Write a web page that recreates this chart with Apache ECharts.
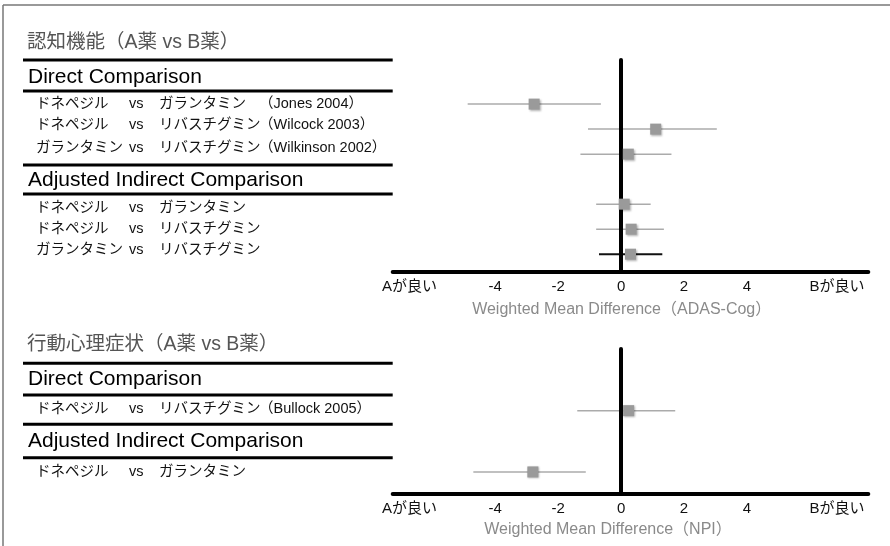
<!DOCTYPE html>
<html><head><meta charset="utf-8">
<script src="https://cdn.jsdelivr.net/npm/echarts@6/dist/echarts.min.js"></script>
<style>html,body{margin:0;padding:0;background:#fff}#c{width:890px;height:546px}</style>
</head><body><div id="c"></div>
<script>
// ---------------- data ----------------
const tickValues = [-4, -2, 0, 2, 4];
const sideLabels = ['Aが良い', 'Bが良い'];
const sideLabelValues = [-6.72, 6.86];
const xRange = [-7.25, 7.85];

const cogTitle = '認知機能（A薬 vs B薬）';
const npiTitle = '行動心理症状（A薬 vs B薬）';
const groupHeaders = ['Direct Comparison', 'Adjusted Indirect Comparison'];

const cogDirectRows = [
  ['ドネペジル', 'vs', 'ガランタミン', '（Jones 2004）'],
  ['ドネペジル', 'vs', 'リバスチグミン', '（Wilcock 2003）'],
  ['ガランタミン', 'vs', 'リバスチグミン', '（Wilkinson 2002）']
];
const cogIndirectRows = [
  ['ドネペジル', 'vs', 'ガランタミン', ''],
  ['ドネペジル', 'vs', 'リバスチグミン', ''],
  ['ガランタミン', 'vs', 'リバスチグミン', '']
];
const cogEst  = [-2.76, 1.10, 0.23, 0.10, 0.32, 0.30];
const cogLow  = [-4.87, -1.05, -1.29, -0.79, -0.79, -0.70];
const cogHigh = [-0.64, 3.04, 1.60, 0.94, 1.36, 1.31];
const cogAxisName = 'Weighted Mean Difference（ADAS-Cog）';

const npiDirectRows = [
  ['ドネペジル', 'vs', 'リバスチグミン', '（Bullock 2005）']
];
const npiIndirectRows = [
  ['ドネペジル', 'vs', 'ガランタミン', '']
];
const npiEst  = [0.24, -2.80];
const npiLow  = [-1.39, -4.69];
const npiHigh = [1.72, -1.12];
const npiAxisName = 'Weighted Mean Difference（NPI）';

// ---------------- layout / style ----------------
const W = 890, H = 546;
const FONT = "'Liberation Sans','Noto Sans CJK JP',sans-serif";
const GL = 392.7, GR = 21.7;
const cols = [36, 129, 159, 259];
const panels = [
  { title: cogTitle, direct: cogDirectRows, indirect: cogIndirectRows,
    est: cogEst, low: cogLow, high: cogHigh, axisName: cogAxisName,
    spacer: true, darkRow: 5,
    axisTop: 60, axisY: 271.7, ptsTop: 91.6, ptsBottomY: 266.7,
    titleY: 43, rules: [60, 91, 165, 194], headersY: [77, 180],
    directY: [104, 125, 147.5], indirectY: [208, 229, 250],
    nameGap: 29.5, nameShift: 17.6 },
  { title: npiTitle, direct: npiDirectRows, indirect: npiIndirectRows,
    est: npiEst, low: npiLow, high: npiHigh, axisName: npiAxisName,
    spacer: false, darkRow: -1,
    axisTop: 349, axisY: 493.7, ptsTop: 380, ptsBottomY: 502.6,
    titleY: 345, rules: [363.3, 395, 424.3, 457.7], headersY: [379, 441.7],
    directY: [409], indirectY: [471.7],
    nameGap: 28, nameShift: 45 }
];

const grids = [], xAxes = [], yAxes = [], series = [], graphic = [];

// frame
graphic.push({ type: 'line', shape: { x1: 3, y1: 5, x2: W, y2: 5 }, style: { stroke: '#777', lineWidth: 1.5 } });
graphic.push({ type: 'line', shape: { x1: 3, y1: 5, x2: 3, y2: H }, style: { stroke: '#777', lineWidth: 1.5 } });

function rowText(parts, y) {
  parts.forEach((t, k) => {
    if (!t) return;
    graphic.push({ type: 'text', x: cols[k], y: y,
      style: { text: t, font: '14.5px ' + FONT, fill: '#111', textVerticalAlign: 'middle' } });
  });
}

panels.forEach((p, pi) => {
  // left table
  graphic.push({ type: 'text', x: 27, y: p.titleY,
    style: { text: p.title, font: '19.5px ' + FONT, fill: '#555', textVerticalAlign: 'middle' } });
  p.rules.forEach(r => graphic.push({ type: 'line', shape: { x1: 23, y1: r, x2: GL, y2: r },
    style: { stroke: '#000', lineWidth: 3 } }));
  groupHeaders.forEach((h, k) => graphic.push({ type: 'text', x: 28, y: p.headersY[k],
    style: { text: h, font: '21px ' + FONT, fill: '#000', textVerticalAlign: 'middle' } }));
  p.direct.forEach((r, k) => rowText(r, p.directY[k]));
  p.indirect.forEach((r, k) => rowText(r, p.indirectY[k]));

  // axis grid
  const ag = grids.length;
  grids.push({ left: GL, right: GR, top: p.axisTop, bottom: H - p.axisY });
  xAxes.push({
    gridIndex: ag, type: 'value', min: xRange[0], max: xRange[1],
    axisLine: { show: true, lineStyle: { color: '#000', width: 4 } },
    axisTick: { show: false }, splitLine: { show: false },
    axisLabel: {
      customValues: [sideLabelValues[0], ...tickValues, sideLabelValues[1]],
      margin: 8, color: '#111', fontSize: 15, fontFamily: FONT,
      formatter: v => v < -5 ? sideLabels[0] : (v > 5 ? sideLabels[1] : String(v))
    },
    name: p.axisName, nameLocation: 'middle', nameGap: p.nameGap,
    nameTextStyle: { color: '#8a8a8a', fontSize: 16, fontFamily: FONT, padding: [0, p.nameShift, 0, 0] }
  });
  yAxes.push({
    gridIndex: ag, type: 'value', min: 0, max: 1, z: 3,
    axisLine: { show: true, onZero: true, lineStyle: { color: '#000', width: 4 } },
    axisTick: { show: false }, axisLabel: { show: false }, splitLine: { show: false }
  });

  // points grid
  const pg = grids.length;
  const cats = p.spacer
    ? [...p.direct.map(r => r.join(' ')), '', ...p.indirect.map(r => r.join(' '))]
    : [...p.direct.map(r => r.join(' ')), ...p.indirect.map(r => r.join(' '))];
  const rowIdx = p.est.map((_, i) => (p.spacer && i >= p.direct.length) ? i + 1 : i);
  grids.push({ left: GL, right: GR, top: p.ptsTop, bottom: H - p.ptsBottomY });
  xAxes.push({ gridIndex: pg, type: 'value', min: xRange[0], max: xRange[1], show: false });
  yAxes.push({ gridIndex: pg, type: 'category', data: cats, inverse: true, show: false });

  const data = p.est.map((e, i) => [p.low[i], p.high[i], e, rowIdx[i]]);
  series.push({
    type: 'custom', xAxisIndex: pg, yAxisIndex: pg, z: 2, silent: true,
    encode: { x: [0, 1, 2], y: 3 }, data: data,
    renderItem: (params, api) => {
      const y = api.value(3);
      const a = api.coord([api.value(0), y]);
      const b = api.coord([api.value(1), y]);
      const dark = params.dataIndex === p.darkRow;
      return { type: 'line', shape: { x1: a[0], y1: a[1], x2: b[0], y2: b[1] },
        style: { stroke: dark ? '#111' : '#ababab', lineWidth: dark ? 2 : 1.5 } };
    }
  });
  series.push({
    type: 'custom', xAxisIndex: pg, yAxisIndex: pg, z: 4, silent: true,
    encode: { x: [0, 1, 2], y: 3 }, data: data,
    renderItem: (params, api) => {
      const c = api.coord([api.value(2), api.value(3)]);
      return { type: 'rect', shape: { x: c[0] - 5.5, y: c[1] - 5.5, width: 11, height: 11 },
        style: { fill: '#9a9a9a', shadowBlur: 2, shadowColor: 'rgba(0,0,0,0.3)', shadowOffsetX: 1, shadowOffsetY: 1 } };
    }
  });
});

const chart = echarts.init(document.getElementById('c'), null, { renderer: 'canvas' });
chart.setOption({
  animation: false,
  backgroundColor: '#fff',
  grid: grids, xAxis: xAxes, yAxis: yAxes, series: series,
  graphic: graphic
});
</script></body></html>
